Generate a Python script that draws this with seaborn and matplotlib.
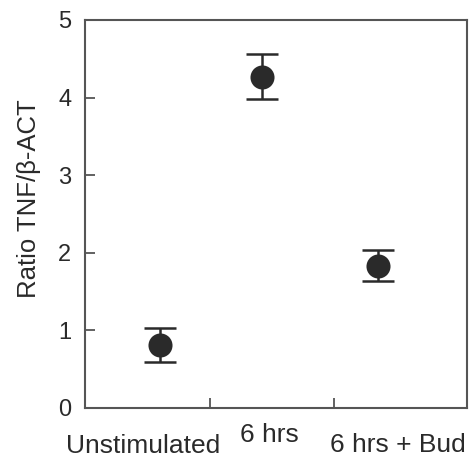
import matplotlib
matplotlib.use("Agg")
import matplotlib.pyplot as plt
import matplotlib.transforms as mtransforms
import seaborn as sns
import pandas as pd

# values
groups = ["Unstimulated", "6 hrs", "6 hrs + Bud"]
x_pos = [0.6, 1.42, 2.35]
ratio = [0.81, 4.27, 1.83]
err = [0.22, 0.29, 0.2]
label_x = [0.47, 1.48, 2.51]
label_y = [-0.116, -0.088, -0.113]
y_ticks = [0, 1, 2, 3, 4, 5]
x_ticks = [1, 2]

df = pd.DataFrame({"group": groups, "x": x_pos, "ratio": ratio, "err": err})

sns.set_theme(style="white")
plt.rcParams["font.family"] = ["Liberation Sans", "DejaVu Sans"]

fig = plt.figure(figsize=(4.7, 4.63), dpi=100)
ax = fig.add_axes([0.181, 0.119, 0.813, 0.838])
fig.patch.set_facecolor("white")

ink = "#2a2a2a"
ax.errorbar(df["x"], df["ratio"], yerr=df["err"], fmt="none", ecolor=ink,
            elinewidth=1.8, capsize=11.5, capthick=1.8, zorder=2)
sns.scatterplot(data=df, x="x", y="ratio", ax=ax, s=300, color=ink,
                edgecolor=ink, linewidth=0, zorder=3, legend=False)

ax.set_xlim(0, 3.07)
ax.set_ylim(0, 5)
ax.set_yticks(y_ticks)
ax.set_xticks(x_ticks)
ax.set_xticklabels([])
ax.tick_params(axis="both", direction="in", length=7.5, width=1.3,
               color="#555555", bottom=True, left=True)
ax.tick_params(axis="y", labelsize=17, labelcolor=ink, pad=10)
for sp in ax.spines.values():
    sp.set_color("#555555")
    sp.set_linewidth(1.5)

ax.set_xlabel("")
ax.set_ylabel("Ratio TNF/β-ACT", fontsize=18.5, color=ink, labelpad=12)
ax.yaxis.label.set_y(0.54)

trans = mtransforms.blended_transform_factory(ax.transData, ax.transAxes)
for g, lx, ly in zip(groups, label_x, label_y):
    ax.text(lx, ly, g, transform=trans, ha="center", va="baseline",
            fontsize=19, color=ink)

fig.savefig("out.png", dpi=100)
